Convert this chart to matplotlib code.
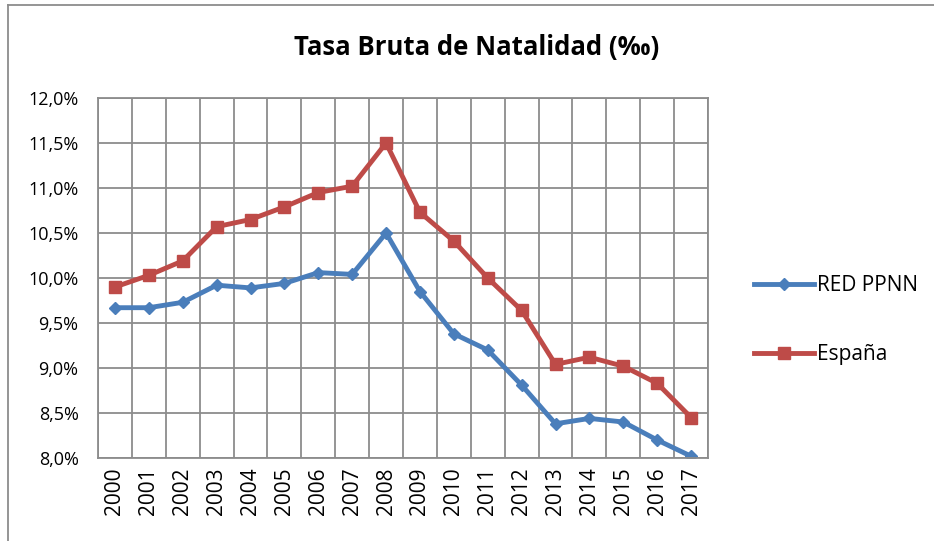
import numpy as np
import matplotlib
matplotlib.use("Agg")
import matplotlib.pyplot as plt
from matplotlib.lines import Line2D

# data
years = [str(y) for y in range(2000, 2018)]
red_ppnn = [9.67, 9.67, 9.73, 9.92, 9.89, 9.94, 10.06, 10.04, 10.50,
            9.85, 9.38, 9.20, 8.81, 8.38, 8.44, 8.40, 8.20, 8.02]
espana = [9.90, 10.03, 10.19, 10.57, 10.65, 10.79, 10.95, 11.02, 11.50,
          10.73, 10.41, 10.00, 9.64, 9.04, 9.12, 9.02, 8.83, 8.45]
y_ticks = [8.0, 8.5, 9.0, 9.5, 10.0, 10.5, 11.0, 11.5, 12.0]

blue = "#4A7EBB"
red = "#BE4B48"
grid = "#8C8C8C"

plt.rcParams["font.family"] = ["Open Sans", "DejaVu Sans"]

fig = plt.figure(figsize=(9.34, 5.41), dpi=100)
ax = fig.add_axes([98 / 934, 1 - 458 / 541, 610 / 934, 360 / 541])

x = np.arange(len(years))
ax.plot(x, red_ppnn, color=blue, lw=3.5, marker="D", ms=6.5, label="RED PPNN")
ax.plot(x, espana, color=red, lw=3.5, marker="s", ms=8, label="España")

ax.set_xlim(-0.5, len(years) - 0.5)
ax.set_ylim(8.0, 12.0)
ax.set_yticks(y_ticks)
ax.set_yticklabels([("%.1f%%" % v).replace(".", ",") for v in y_ticks], fontsize=13)
ax.set_xticks(x)
ax.set_xticklabels(years, rotation=90, fontsize=15)
ax.tick_params(length=0, pad=14)
ax.tick_params(axis="x", pad=7)

# grid between categories, like excel
for xv in np.arange(-0.5, len(years), 1.0):
    ax.axvline(xv, color=grid, lw=1.3, zorder=0)
for yv in y_ticks:
    ax.axhline(yv, color=grid, lw=1.3, zorder=0)
for s in ax.spines.values():
    s.set_color(grid)
    s.set_linewidth(1.3)

fig.text(0.5 * (290 + 663) / 934, 1 - 47 / 541, "Tasa Bruta de Natalidad (‰)",
         ha="center", va="center", fontsize=18.5, fontweight="bold")

handles = [Line2D([], [], color=blue, lw=3.5, marker="D", ms=6.5),
           Line2D([], [], color=red, lw=3.5, marker="s", ms=8)]
fig.legend(handles, ["RED PPNN", "España"], loc="center left",
           bbox_to_anchor=(735 / 934, 1 - 320 / 541), frameon=False,
           fontsize=15, handlelength=2.9, handletextpad=0.15, labelspacing=2.3)

# outer chart border (left and top visible)
fig.add_artist(Line2D([8 / 934, 8 / 934], [0, 1 - 5 / 541], color="#8C8C8C", lw=1.3))
fig.add_artist(Line2D([8 / 934, 1], [1 - 5 / 541, 1 - 5 / 541], color="#8C8C8C", lw=1.3))

fig.savefig("out.png", dpi=100)
